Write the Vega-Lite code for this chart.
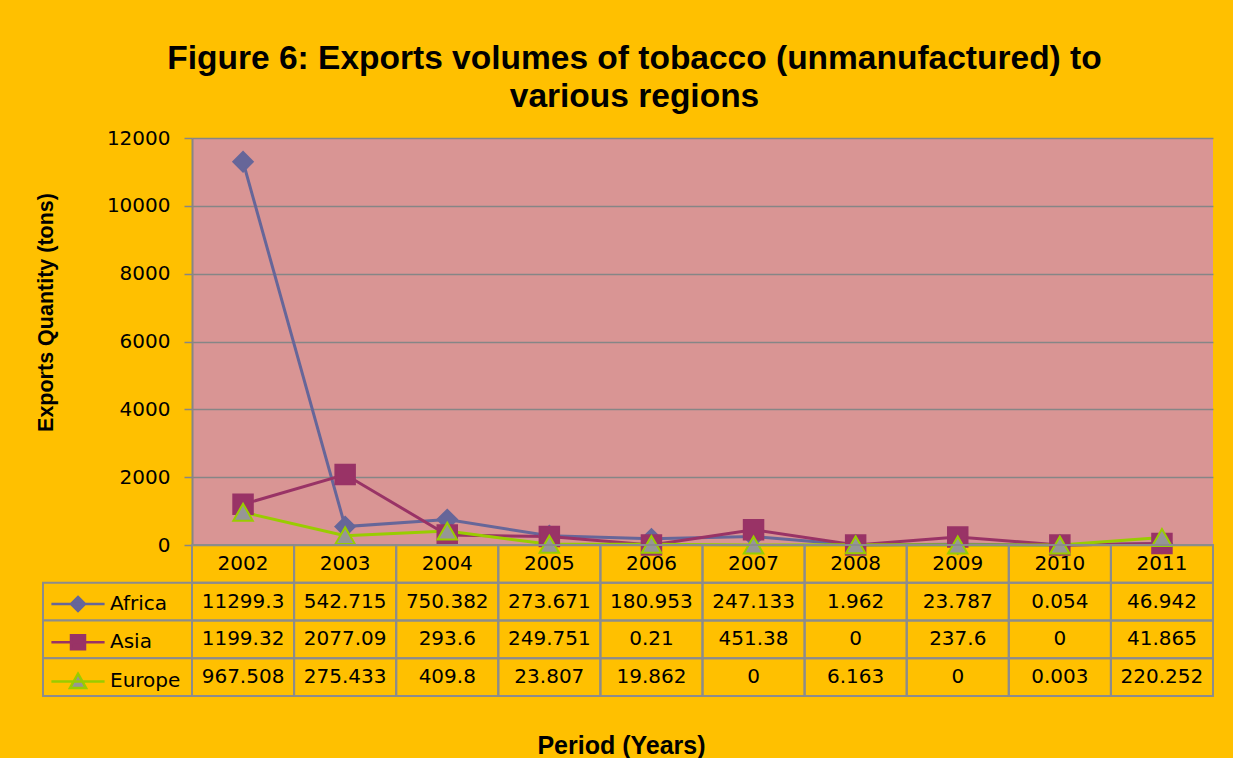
{
  "$schema": "https://vega.github.io/schema/vega-lite/v6.json",
  "background": "#FFC000",
  "padding": {"left": 34, "top": 41, "right": 20, "bottom": 0},
  "title": {
    "text": ["Figure 6: Exports volumes of tobacco (unmanufactured) to", "various regions"],
    "font": "Liberation Sans",
    "fontSize": 33.5,
    "fontWeight": "bold",
    "color": "#000000",
    "anchor": "middle",
    "lineHeight": 38,
    "dx": 10,
    "offset": 14
  },
  "datasets": {
    "d": [
      {"year": 2002, "region": "Africa", "value": 11299.3},
      {"year": 2003, "region": "Africa", "value": 542.715},
      {"year": 2004, "region": "Africa", "value": 750.382},
      {"year": 2005, "region": "Africa", "value": 273.671},
      {"year": 2006, "region": "Africa", "value": 180.953},
      {"year": 2007, "region": "Africa", "value": 247.133},
      {"year": 2008, "region": "Africa", "value": 1.962},
      {"year": 2009, "region": "Africa", "value": 23.787},
      {"year": 2010, "region": "Africa", "value": 0.054},
      {"year": 2011, "region": "Africa", "value": 46.942},
      {"year": 2002, "region": "Asia", "value": 1199.32},
      {"year": 2003, "region": "Asia", "value": 2077.09},
      {"year": 2004, "region": "Asia", "value": 293.6},
      {"year": 2005, "region": "Asia", "value": 249.751},
      {"year": 2006, "region": "Asia", "value": 0.21},
      {"year": 2007, "region": "Asia", "value": 451.38},
      {"year": 2008, "region": "Asia", "value": 0},
      {"year": 2009, "region": "Asia", "value": 237.6},
      {"year": 2010, "region": "Asia", "value": 0},
      {"year": 2011, "region": "Asia", "value": 41.865},
      {"year": 2002, "region": "Europe", "value": 967.508},
      {"year": 2003, "region": "Europe", "value": 275.433},
      {"year": 2004, "region": "Europe", "value": 409.8},
      {"year": 2005, "region": "Europe", "value": 23.807},
      {"year": 2006, "region": "Europe", "value": 19.862},
      {"year": 2007, "region": "Europe", "value": 0},
      {"year": 2008, "region": "Europe", "value": 6.163},
      {"year": 2009, "region": "Europe", "value": 0},
      {"year": 2010, "region": "Europe", "value": 0.003},
      {"year": 2011, "region": "Europe", "value": 220.252}
    ]
  },
  "columns": 2,
  "spacing": 0,
  "bounds": "flush",
  "resolve": {
    "scale": {"x": "independent", "y": "independent", "shape": "independent", "fill": "independent", "stroke": "independent"},
    "legend": {"shape": "independent", "fill": "independent", "stroke": "independent"}
  },
  "concat": [
    {
      "width": 149,
      "height": 407,
      "data": {"values": [{}]},
      "mark": {"type": "text", "text": ""}
    },
    {
      "width": 1021,
      "height": 407,
      "view": {"fill": "#D99594", "stroke": null},
      "data": {"name": "d"},
      "encoding": {
        "x": {"field": "year", "type": "ordinal", "scale": {"type": "point", "padding": 0.5}, "axis": null},
        "y": {
          "field": "value",
          "type": "quantitative",
          "scale": {"domain": [0, 12000], "nice": false},
          "axis": {
            "values": [0, 2000, 4000, 6000, 8000, 10000, 12000],
            "format": "d",
            "grid": true,
            "gridColor": "#868686",
            "gridWidth": 1.5,
            "domainColor": "#868686",
            "domainWidth": 2,
            "tickColor": "#868686",
            "tickWidth": 1.5,
            "tickSize": 8,
            "labelFont": "DejaVu Sans",
            "labelFontSize": 20,
            "labelColor": "#000000",
            "labelPadding": 14,
            "title": "Exports Quantity (tons)",
            "titleFont": "Liberation Sans",
            "titleFontSize": 21.5,
            "titleFontWeight": "bold",
            "titleColor": "#000000",
            "titleX": -146,
            "titleY": 174,
            "titleBaseline": "middle"
          }
        }
      },
      "layer": [
        {
          "mark": {"type": "line", "strokeWidth": 3},
          "encoding": {
            "stroke": {
              "field": "region",
              "type": "nominal",
              "scale": {"domain": ["Africa", "Asia", "Europe"], "range": ["#666699", "#993366", "#99CC00"]},
              "legend": null
            }
          }
        },
        {
          "mark": {"type": "point", "filled": true, "size": 380, "strokeWidth": 2, "opacity": 1},
          "encoding": {
            "shape": {
              "field": "region",
              "type": "nominal",
              "scale": {"domain": ["Africa", "Asia", "Europe"], "range": ["diamond", "square", "triangle-up"]},
              "legend": null
            },
            "fill": {
              "field": "region",
              "type": "nominal",
              "scale": {"domain": ["Africa", "Asia", "Europe"], "range": ["#666699", "#993366", "#969696"]},
              "legend": null
            },
            "stroke": {
              "field": "region",
              "type": "nominal",
              "scale": {"domain": ["Africa", "Asia", "Europe"], "range": ["#666699", "#993366", "#99CC00"]},
              "legend": null
            }
          }
        }
      ]
    },
    {
      "width": 149,
      "height": 151,
      "data": {"name": "d"},
      "transform": [{"filter": "datum.year === 2002"}],
      "encoding": {
        "y": {
          "field": "region",
          "type": "nominal",
          "scale": {"type": "band", "domain": ["Year", "Africa", "Asia", "Europe"], "paddingInner": 0, "paddingOuter": 0},
          "axis": null
        }
      },
      "layer": [
        {
          "mark": {"type": "point", "filled": true, "size": 196, "strokeWidth": 2.5, "opacity": 1},
          "encoding": {
            "shape": {
              "field": "region",
              "type": "nominal",
              "scale": {
                "domain": ["Africa", "Asia", "Europe"],
                "range": [
                  "M-3.8,0H3.8M0,-1L1,0L0,1L-1,0Z",
                  "M-3.8,0H3.8M-1,-1H1V1H-1Z",
                  "M-3.8,0H3.8M0,-1.1L1.15,0.95H-1.15Z"
                ]
              },
              "legend": {"title": null, "orient": "none", "legendX": 25, "legendY": 49, "padding": 0, "symbolSize": 196, "symbolStrokeWidth": 2.5, "symbolOpacity": 1, "labelFont": "DejaVu Sans", "labelFontSize": 20, "labelColor": "#000000", "labelOffset": 22, "rowPadding": 14.2}
            },
            "fill": {
              "field": "region",
              "type": "nominal",
              "scale": {"domain": ["Africa", "Asia", "Europe"], "range": ["#666699", "#993366", "#969696"]},
              "legend": {"title": null, "orient": "none", "legendX": 25, "legendY": 49, "padding": 0, "symbolSize": 196, "symbolStrokeWidth": 2.5, "symbolOpacity": 1, "labelFont": "DejaVu Sans", "labelFontSize": 20, "labelColor": "#000000", "labelOffset": 22, "rowPadding": 14.2}
            },
            "stroke": {
              "field": "region",
              "type": "nominal",
              "scale": {"domain": ["Africa", "Asia", "Europe"], "range": ["#666699", "#993366", "#99CC00"]},
              "legend": {"title": null, "orient": "none", "legendX": 25, "legendY": 49, "padding": 0, "symbolSize": 196, "symbolStrokeWidth": 2.5, "symbolOpacity": 1, "labelFont": "DejaVu Sans", "labelFontSize": 20, "labelColor": "#000000", "labelOffset": 22, "rowPadding": 14.2}
            }
          }
        },
        {
          "mark": {"type": "rect", "fill": "#FFC000", "stroke": "#8C8C8C", "strokeWidth": 2}
        }
      ]
    },
    {
      "width": 1021,
      "height": 151,
      "data": {"name": "d"},
      "encoding": {
        "x": {
          "field": "year",
          "type": "ordinal",
          "scale": {"type": "band", "paddingInner": 0, "paddingOuter": 0},
          "axis": {
            "labels": false,
            "ticks": false,
            "domain": false,
            "grid": false,
            "title": "Period (Years)",
            "titleFont": "Liberation Sans",
            "titleFontSize": 25,
            "titleFontWeight": "bold",
            "titleColor": "#000000",
            "titleX": 429,
            "titleY": 57,
            "titleBaseline": "alphabetic"
          }
        },
        "y": {
          "field": "region",
          "type": "nominal",
          "scale": {"type": "band", "domain": ["Year", "Africa", "Asia", "Europe"], "paddingInner": 0, "paddingOuter": 0},
          "axis": null
        }
      },
      "layer": [
        {
          "mark": {"type": "rect", "fill": "transparent", "stroke": "#8C8C8C", "strokeWidth": 2}
        },
        {
          "transform": [{"filter": "datum.region === 'Africa'"}],
          "mark": {"type": "rect", "fill": "transparent", "stroke": "#8C8C8C", "strokeWidth": 2},
          "encoding": {"y": {"datum": "Year", "type": "nominal"}}
        },
        {
          "mark": {"type": "text", "font": "DejaVu Sans", "fontSize": 20, "color": "#000000"},
          "encoding": {"text": {"field": "value", "type": "nominal"}}
        },
        {
          "transform": [{"filter": "datum.region === 'Africa'"}],
          "mark": {"type": "text", "font": "DejaVu Sans", "fontSize": 20, "color": "#000000"},
          "encoding": {
            "y": {"datum": "Year", "type": "nominal"},
            "text": {"field": "year", "type": "nominal"}
          }
        }
      ]
    }
  ],
  "config": {
    "view": {"stroke": null}
  }
}
